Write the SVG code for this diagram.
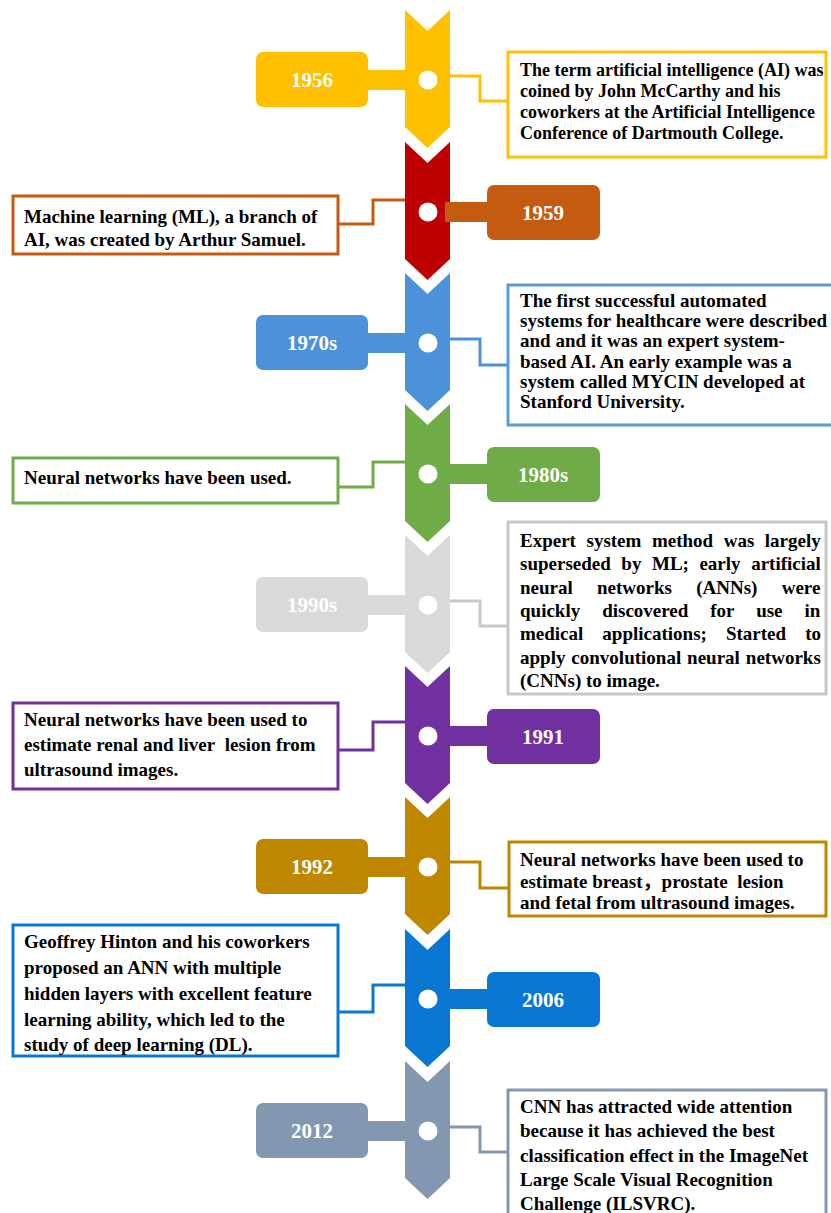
<svg xmlns="http://www.w3.org/2000/svg" width="831" height="1213" viewBox="0 0 831 1213">
<style>
.t{font-family:"Liberation Serif","Times New Roman","Noto Sans CJK SC",serif;font-weight:bold;font-size:19px;fill:#000}
.s18{font-size:18px}
.y{font-family:"Liberation Serif","Times New Roman",serif;font-weight:bold;font-size:21px;fill:#fff;text-anchor:middle}
.box{fill:#fff;stroke-width:3}
.conn{fill:none;stroke-width:3}
.dot{fill:#fff}
</style>
<rect width="831" height="1213" fill="#fff"/>
<g id="connectors">
<polyline class="conn" stroke="#FFC000" points="450,76 480,76 480,101 508,101"/>
<polyline class="conn" stroke="#C55A11" points="405,200 373,200 373,224 338,224"/>
<polyline class="conn" stroke="#4C92DA" points="450,339 480,339 480,365 508,365"/>
<polyline class="conn" stroke="#6FAB46" points="405,462 373,462 373,487 338,487"/>
<polyline class="conn" stroke="#C8C8C8" points="450,601 480,601 480,626 508,626"/>
<polyline class="conn" stroke="#7030A0" points="405,722 373,722 373,750 338,750"/>
<polyline class="conn" stroke="#BF8700" points="450,862 480,862 480,888 509,888"/>
<polyline class="conn" stroke="#0A78D2" points="405,985 373,985 373,1012 338,1012"/>
<polyline class="conn" stroke="#8497B0" points="450,1127 480,1127 480,1152 508,1152"/>
</g>
<g id="n1956">
<path fill="#FFC000" d="M405,10 L427.5,31 L450,10 L450,127 L427.5,148 L405,127 Z"/>
<rect fill="#FFC000" x="360" y="70" width="50" height="20"/>
<rect fill="#FFC000" x="256" y="52" width="112" height="55" rx="7"/>
<text class="y" x="312" y="87">1956</text>
<circle class="dot" cx="428" cy="80" r="9.5"/>
<rect class="box" stroke="#FFC000" x="508" y="52" width="318" height="105"/>
<text class="t s18"><tspan x="520" y="76">The term artificial intelligence (AI) was</tspan><tspan x="520" y="97">coined by John McCarthy and his</tspan><tspan x="520" y="118">coworkers at the Artificial Intelligence</tspan><tspan x="520" y="139">Conference of Dartmouth College.</tspan></text>
</g>
<g id="n1959">
<path fill="#BE0000" d="M405,142 L427.5,163 L450,142 L450,259 L427.5,280 L405,259 Z"/>
<rect fill="#C55A11" x="445" y="202" width="50" height="20"/>
<rect fill="#C55A11" x="487" y="185" width="113" height="55" rx="7"/>
<text class="y" x="543" y="220">1959</text>
<circle class="dot" cx="428" cy="212" r="9.5"/>
<rect class="box" stroke="#C55A11" x="13" y="196" width="325" height="58"/>
<text class="t"><tspan x="24" y="223">Machine learning (ML), a branch of</tspan><tspan x="24" y="246">AI, was created by Arthur Samuel.</tspan></text>
</g>
<g id="n1970s">
<path fill="#4C92DA" d="M405,273 L427.5,294 L450,273 L450,390 L427.5,411 L405,390 Z"/>
<rect fill="#4C92DA" x="360" y="333" width="50" height="20"/>
<rect fill="#4C92DA" x="256" y="315" width="112" height="55" rx="7"/>
<text class="y" x="312" y="350">1970s</text>
<circle class="dot" cx="428" cy="343" r="9.5"/>
<rect class="box" stroke="#5B9BD5" x="508" y="285" width="330" height="140"/>
<text class="t"><tspan x="520" y="307">The first successful automated</tspan><tspan x="520" y="327">systems for healthcare were described</tspan><tspan x="520" y="347">and and it was an expert system-</tspan><tspan x="520" y="368">based AI. An early example was a</tspan><tspan x="520" y="388">system called MYCIN developed at</tspan><tspan x="520" y="408">Stanford University.</tspan></text>
</g>
<g id="n1980s">
<path fill="#6FAB46" d="M405,404 L427.5,425 L450,404 L450,521 L427.5,542 L405,521 Z"/>
<rect fill="#6FAB46" x="445" y="464" width="50" height="20"/>
<rect fill="#6FAB46" x="487" y="447" width="113" height="55" rx="7"/>
<text class="y" x="543" y="482">1980s</text>
<circle class="dot" cx="428" cy="474" r="9.5"/>
<rect class="box" stroke="#6FAB46" x="13" y="458" width="325" height="45"/>
<text class="t" x="24" y="484">Neural networks have been used.</text>
</g>
<g id="n1990s">
<path fill="#D9D9D9" d="M405,535 L427.5,556 L450,535 L450,652 L427.5,673 L405,652 Z"/>
<rect fill="#D9D9D9" x="360" y="595" width="50" height="20"/>
<rect fill="#D9D9D9" x="256" y="577" width="112" height="55" rx="7"/>
<text class="y" x="312" y="612">1990s</text>
<circle class="dot" cx="428" cy="605" r="9.5"/>
<rect class="box" stroke="#C8C8C8" x="508" y="522" width="318" height="172"/>
<text class="t" x="520" y="547" word-spacing="5.8">Expert system method was largely</text>
<text class="t" x="520" y="570" word-spacing="5.8">superseded by ML; early artificial</text>
<text class="t" x="520" y="594" word-spacing="19.5">neural networks (ANNs) were</text>
<text class="t" x="520" y="617" word-spacing="17.2">quickly discovered for use in</text>
<text class="t" x="520" y="640" word-spacing="14.3">medical applications; Started to</text>
<text class="t" x="520" y="664" word-spacing="1.2">apply convolutional neural networks</text>
<text class="t" x="520" y="687">(CNNs) to image.</text>
</g>
<g id="n1991">
<path fill="#7030A0" d="M405,666 L427.5,687 L450,666 L450,783 L427.5,804 L405,783 Z"/>
<rect fill="#7030A0" x="445" y="726" width="50" height="20"/>
<rect fill="#7030A0" x="487" y="709" width="113" height="55" rx="7"/>
<text class="y" x="543" y="744">1991</text>
<circle class="dot" cx="428" cy="736" r="9.5"/>
<rect class="box" stroke="#7030A0" x="13" y="703" width="325" height="86"/>
<text class="t"><tspan x="24" y="726">Neural networks have been used to</tspan><tspan x="24" y="751">estimate renal and liver&#160; lesion from</tspan><tspan x="24" y="776">ultrasound images.</tspan></text>
</g>
<g id="n1992">
<path fill="#BF8700" d="M405,797 L427.5,818 L450,797 L450,914 L427.5,935 L405,914 Z"/>
<rect fill="#BF8700" x="360" y="857" width="50" height="20"/>
<rect fill="#BF8700" x="256" y="839" width="112" height="55" rx="7"/>
<text class="y" x="312" y="874">1992</text>
<circle class="dot" cx="428" cy="867" r="9.5"/>
<rect class="box" stroke="#BF8700" x="509" y="842" width="317" height="74"/>
<text class="t"><tspan x="520" y="866">Neural networks have been used to</tspan><tspan x="520" y="888">estimate breast，prostate&#160; lesion</tspan><tspan x="520" y="909">and fetal from ultrasound images.</tspan></text>
</g>
<g id="n2006">
<path fill="#0A78D2" d="M405,929 L427.5,950 L450,929 L450,1046 L427.5,1067 L405,1046 Z"/>
<rect fill="#0A78D2" x="445" y="989" width="50" height="20"/>
<rect fill="#0A78D2" x="487" y="972" width="113" height="55" rx="7"/>
<text class="y" x="543" y="1007">2006</text>
<circle class="dot" cx="428" cy="999" r="9.5"/>
<rect class="box" stroke="#0A78D2" x="13" y="925" width="325" height="131"/>
<text class="t"><tspan x="24" y="948">Geoffrey Hinton and his coworkers</tspan><tspan x="24" y="974">proposed an ANN with multiple</tspan><tspan x="24" y="1000">hidden layers with excellent feature</tspan><tspan x="24" y="1026">learning ability, which led to the</tspan><tspan x="24" y="1051">study of deep learning (DL).</tspan></text>
</g>
<g id="n2012">
<path fill="#8497B0" d="M405,1061 L427.5,1082 L450,1061 L450,1178 L427.5,1199 L405,1178 Z"/>
<rect fill="#8497B0" x="360" y="1121" width="50" height="20"/>
<rect fill="#8497B0" x="256" y="1103" width="112" height="55" rx="7"/>
<text class="y" x="312" y="1138">2012</text>
<circle class="dot" cx="428" cy="1131" r="9.5"/>
<rect class="box" stroke="#8497B0" x="508" y="1090" width="318" height="135"/>
<text class="t"><tspan x="520" y="1113">CNN has attracted wide attention</tspan><tspan x="520" y="1137">because it has achieved the best</tspan><tspan x="520" y="1162">classification effect in the ImageNet</tspan><tspan x="520" y="1186">Large Scale Visual Recognition</tspan><tspan x="520" y="1210">Challenge (ILSVRC).</tspan></text>
</g>
</svg>
